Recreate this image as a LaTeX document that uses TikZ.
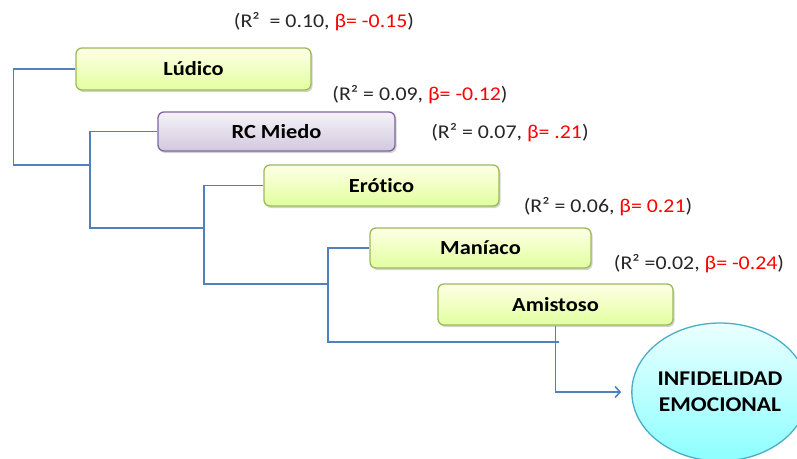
\documentclass[tikz,border=0pt]{standalone}
\usepackage{fontspec}
\setmainfont[FakeStretch=1.12, Ligatures=CommonOff]{Carlito}
\usetikzlibrary{arrows.meta}
\usetikzlibrary{positioning, shapes.geometric, shadows}

\definecolor{linkblue}{HTML}{4F81BD}
\definecolor{greenline}{HTML}{9BBB59}
\definecolor{purpleline}{HTML}{8064A2}
\definecolor{cyanline}{HTML}{4BACC6}

\begin{document}
\begin{tikzpicture}[
        x=1pt, y=-1pt,
        >={Straight Barb[length=5pt,width=11pt]},
        link/.style={draw=linkblue, line width=1.6pt},
        factor/.style={rounded corners=6pt, line width=1.3pt,
            draw=greenline, top color=green!4!yellow!10, bottom color=green!30!yellow!38,
            drop shadow={shadow xshift=1.5pt, shadow yshift=-2pt, opacity=0.35},
            font=\fontsize{20}{24}\selectfont\bfseries, text=black},
        purplefactor/.style={factor, draw=purpleline,
            top color=purpleline!8, bottom color=purpleline!35},
        stat/.style={font=\fontsize{19.5}{23}\selectfont, text=black!85},
        every node/.style={inner sep=0pt}
    ]

    \useasboundingbox (0,0) rectangle (797,458);

    % Predictor boxes
    \node[factor, minimum width=235pt, minimum height=42pt] (ludico) at (193.5,69) {Lúdico};
    \node[purplefactor, minimum width=237pt, minimum height=39pt] (miedo) at (276.5,131.5) {RC Miedo};
    \node[factor, minimum width=235pt, minimum height=41pt] (erotico) at (381.5,185.5) {Erótico};
    \node[factor, minimum width=221pt, minimum height=40pt] (maniaco) at (480.5,248) {Maníaco};
    \node[factor, minimum width=235pt, minimum height=41pt] (amistoso) at (555.5,304.5) {Amistoso};

    % Outcome
    \node[ellipse, line width=1.3pt, draw=cyanline, top color=cyan!8, bottom color=cyan!45,
        minimum width=166pt, minimum height=138pt, align=center,
        font=\fontsize{21}{26}\selectfont\bfseries] (infid) at (720,392)
        {INFIDELIDAD\\EMOCIONAL};

    % Step results
    \node[stat] (r1) at (324,22) {(R²\ \ = 0.10, \textcolor{red}{β= -0.15})};
    \node[stat] (r2) at (420,95) {(R² = 0.09, \textcolor{red}{β= -0.12})};
    \node[stat] (r3) at (510,133) {(R² = 0.07, \textcolor{red}{β= .21})};
    \node[stat] (r4) at (608,207) {(R² = 0.06, \textcolor{red}{β= 0.21})};
    \node[stat] (r5) at (699,264) {(R² =0.02, \textcolor{red}{β= -0.24})};

    % Bracket joints
    \coordinate (c1) at (90,165);
    \coordinate (c2) at (204,228);
    \coordinate (c3) at (328,284);
    \coordinate (c4) at (559,342);

    % Brackets
    \draw[link] (ludico.west) -- ++(-62,0) |- (c1);
    \draw[link] (miedo.west) -| (c1 |- c2) -- (c2);
    \draw[link] (erotico.west) -| (c2 |- c3) -- (c3);
    \draw[link] (maniaco.west) -| (c3 |- c4) -- (c4);

    % Arrow to outcome
    \draw[link,->,shorten >=10pt] (amistoso.south) |- (infid.west);

\end{tikzpicture}
\end{document}
